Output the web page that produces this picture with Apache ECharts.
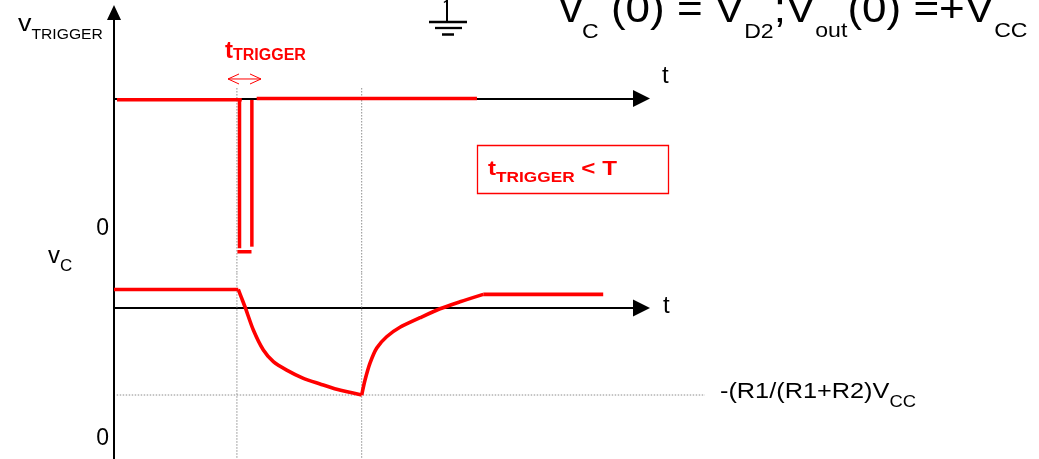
<!DOCTYPE html>
<html>
<head>
<meta charset="utf-8">
<title>Monostable trigger and capacitor voltage</title>
<script src="https://cdn.jsdelivr.net/npm/echarts@6/dist/echarts.min.js"></script>
<style>
  html, body { margin: 0; padding: 0; background: #ffffff; }
  #chart { width: 1039px; height: 459px; }
</style>
</head>
<body>
<div id="chart"></div>
<script>
// ---- time axis (arbitrary units: trigger edge at t = 1, end of timing period T at t = 2) ----
const T_MAX = 4.27;

// ---- trigger waveform v_TRIGGER (upper panel), drawn as separate strokes ----
const trigRestLeft  = [[0.024, -0.08], [1.034, -0.08]];
const trigFallEdge  = [[1.016, -0.08], [1.016, -10.33]];
const trigRiseEdge  = [[1.116, -0.10], [1.116, -10.22]];
const trigLowBar    = [[0.999, -10.57], [1.113, -10.57]];
const trigRestRight = [[1.155, 0.0], [2.938, 0.0]];
const trigRange = { min: -12.05, max: 5.93 };

// double arrow marking the trigger width t_TRIGGER
const widthArrowShaft = [[0.923, 1.345], [1.19, 1.345]];
const widthArrowLeft  = [[1.012, 1.69], [0.923, 1.345], [1.012, 1.0]];
const widthArrowRight = [[1.101, 1.69], [1.19, 1.345], [1.101, 1.0]];

// ---- capacitor voltage v_C (lower panel) ----
const vcHold      = [[0, 1.28], [1.006, 1.28]];
const vcDischarge = [
  [1.006, 1.28], [1.03, 0.75], [1.06, 0.09], [1.128, -1.52], [1.209, -2.90],
  [1.29, -3.70], [1.398, -4.28], [1.533, -4.85], [1.668, -5.24], [1.803, -5.61],
  [2.005, -6.0]
];
const vcRecovery  = [
  [2.005, -6.0], [2.032, -4.97], [2.073, -3.79], [2.127, -2.76], [2.207, -1.98],
  [2.315, -1.33], [2.477, -0.67], [2.639, -0.05], [2.801, 0.43], [2.989, 0.94]
];
const vcSettled   = [[2.989, 0.94], [3.96, 0.94]];
const vcRange = { min: -10.4, max: 2.4 };
const vcMinLevel = -6.0;            // -(R1/(R1+R2))Vcc

// ---- guide lines ----
const eventTimes = [0.995, 2.005];   // trigger instant and end of period T
const guideTopStart = 0.72;          // guides start just under the width arrow
const levelGuide = [[0.022, vcMinLevel], [4.784, vcMinLevel]];
const GUIDE_T_MAX = 4.784;           // the level guide runs out to its label

// ---- text ----
const FONT = '"Liberation Sans", Arial, sans-serif';
const RED = '#ff0000';
const MID = 0.35;   // canvas 'middle' baseline, as a fraction of the font size

// Rich text whose tokens share a baseline; dy moves a token down (subscripts).
// sx widens the whole label horizontally.
function richLabel(x, baseline, tokens, color, align, sx) {
  const BASE = 80;
  const rich = {};
  let text = '';
  tokens.forEach(function (tk, i) {
    const str = tk[0], fs = tk[1], dy = tk[2] || 0, weight = tk[3] || 'normal';
    const pad = BASE + dy - (0.5 + MID) * fs;
    rich['k' + i] = {
      fontSize: fs, fontWeight: weight, fontFamily: FONT, fill: color, color: color,
      verticalAlign: 'top', padding: [pad, 0, 0, 0]
    };
    text += '{k' + i + '|' + str + '}';
  });
  return {
    type: 'text', x: x, y: baseline - BASE, scaleX: sx || 1, silent: true, z: 100,
    style: { text: text, rich: rich, align: align || 'left', verticalAlign: 'top', fill: color, fontFamily: FONT }
  };
}

function stroke(data, axisIdx, color, width, z, opts) {
  opts = opts || {};
  return {
    type: 'line', data: data, xAxisIndex: axisIdx, yAxisIndex: axisIdx,
    symbol: 'none', showSymbol: false, clip: false, silent: true, z: z,
    smooth: opts.smooth || false,
    lineStyle: { color: color, width: width, cap: 'butt', join: 'round', type: opts.dotted ? [1.5, 1.5] : 'solid' },
    emphasis: { disabled: true }
  };
}

const GRAY = '#8c8c8c';
const series = [];
// guides
eventTimes.forEach(function (t) {
  series.push(stroke([[t, guideTopStart], [t, trigRange.min]], 0, GRAY, 1, 1, { dotted: true }));
  series.push(stroke([[t, vcRange.max], [t, vcRange.min]], 1, GRAY, 1, 1, { dotted: true }));
});
series.push(stroke(levelGuide, 2, GRAY, 1, 1, { dotted: true }));
// trigger
[trigRestLeft, trigFallEdge, trigRiseEdge, trigLowBar, trigRestRight].forEach(function (d) {
  series.push(stroke(d, 0, RED, 3.5, 3));
});
[widthArrowShaft, widthArrowLeft, widthArrowRight].forEach(function (d) {
  series.push(stroke(d, 0, RED, 1, 3));
});
// capacitor voltage
series.push(stroke(vcHold, 1, RED, 3.6, 3));
series.push(stroke(vcDischarge, 1, RED, 3.6, 3, { smooth: 0.25 }));
series.push(stroke(vcRecovery, 1, RED, 3.6, 3, { smooth: 0.25 }));
series.push(stroke(vcSettled, 1, RED, 3.6, 3));

const hidden = { axisLine: { show: false }, axisTick: { show: false }, axisLabel: { show: false }, splitLine: { show: false } };
function timeAxis(gridIdx) {
  return {
    type: 'value', gridIndex: gridIdx, min: 0, max: T_MAX,
    axisLine: { show: true, onZero: true, symbol: ['none', 'triangle'], symbolSize: [17, 17],
                lineStyle: { color: '#000', width: 2 } },
    axisTick: { show: false }, axisLabel: { show: false }, splitLine: { show: false }
  };
}
function valueAxis(gridIdx, range, arrow) {
  return {
    type: 'value', gridIndex: gridIdx, min: range.min, max: range.max,
    axisLine: { show: true, onZero: false, symbol: arrow ? ['none', 'triangle'] : 'none', symbolSize: [14, 15],
                lineStyle: { color: '#000', width: 2 } },
    axisTick: { show: false }, axisLabel: { show: false }, splitLine: { show: false }
  };
}

const PX = 14.5;          // pixels per volt on both panels
const T_PX = 527.5 / T_MAX;
const topH = (trigRange.max - trigRange.min) * PX;
const botH = (vcRange.max - vcRange.min) * PX;

const graphic = [
  // axis names and levels
  richLabel(18, 33, [['v', 24], ['TRIGGER', 14, 7]], '#000', 'left', 1.12),
  richLabel(48, 265, [['v', 24], ['C', 17, 7]], '#000'),
  richLabel(109, 237, [['0', 23]], '#000', 'right'),
  richLabel(109, 447, [['0', 23]], '#000', 'right'),
  richLabel(662, 85, [['t', 24]], '#000'),
  richLabel(663, 315, [['t', 24]], '#000'),
  // trigger width annotation
  richLabel(225, 60, [['t', 24, 0, 'bold'], ['TRIGGER', 16, 1, 'bold']], RED),
  // condition box
  { type: 'rect', shape: { x: 477.5, y: 145.5, width: 191, height: 48 }, silent: true, z: 100,
    style: { fill: 'none', stroke: RED, lineWidth: 1.3 } },
  richLabel(488, 177, [['t', 21, 0, 'bold'], ['TRIGGER', 15, 6, 'bold'], [' < T', 21, 0, 'bold']], RED, 'left', 1.15),
  // minimum level
  richLabel(720, 400, [['-(R1/(R1+R2)V', 22], ['CC', 16, 8]], '#000', 'left', 1.15),
  // initial conditions
  richLabel(560, 25, [['v', 40], ['C', 21, 15], [' (0) = V', 40], ['D2', 21, 15],
                      [';V', 40], ['out', 21, 14], ['(0) =+V', 40], ['CC', 21, 14]], '#000', 'left', 1.1),
  // ground symbol
  { type: 'group', silent: true, z: 100, children: [
    { type: 'line', shape: { x1: 447, y1: 0, x2: 447, y2: 22 }, style: { stroke: '#000', lineWidth: 2 } },
    { type: 'line', shape: { x1: 444, y1: 2.5, x2: 447, y2: 0.5 }, style: { stroke: '#000', lineWidth: 1.5 } },
    { type: 'line', shape: { x1: 429, y1: 22, x2: 467, y2: 22 }, style: { stroke: '#000', lineWidth: 2.3 } },
    { type: 'line', shape: { x1: 435, y1: 28, x2: 462, y2: 28 }, style: { stroke: '#000', lineWidth: 2.3 } },
    { type: 'line', shape: { x1: 442, y1: 34.5, x2: 454, y2: 34.5 }, style: { stroke: '#000', lineWidth: 2.5 } }
  ] }
];

const chart = echarts.init(document.getElementById('chart'), null, { renderer: 'canvas' });
chart.setOption({
  animation: false,
  backgroundColor: '#ffffff',
  grid: [
    { left: 114, top: 12.5, width: 527.5, height: topH, outerBoundsMode: 'none' },
    { left: 114, top: 12.5 + topH, width: 527.5, height: botH, outerBoundsMode: 'none' },
    // guide layer on the lower panel, reaching out to the level label
    { left: 114, top: 12.5 + topH, width: GUIDE_T_MAX * T_PX, height: botH, outerBoundsMode: 'none' }
  ],
  xAxis: [timeAxis(0), timeAxis(1),
          Object.assign({ type: 'value', gridIndex: 2, min: 0, max: GUIDE_T_MAX }, hidden)],
  yAxis: [valueAxis(0, trigRange, true), valueAxis(1, vcRange, false),
          Object.assign({ type: 'value', gridIndex: 2, min: vcRange.min, max: vcRange.max }, hidden)],
  series: series,
  graphic: graphic
});
</script>
</body>
</html>
